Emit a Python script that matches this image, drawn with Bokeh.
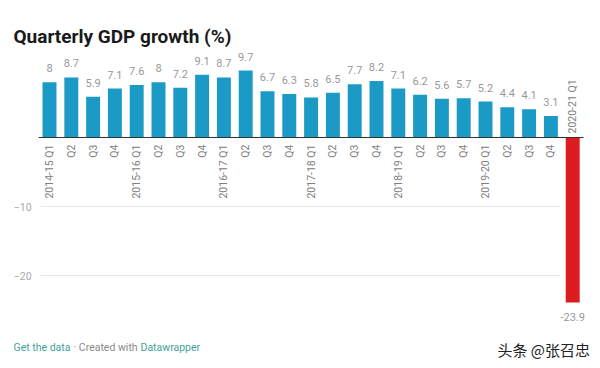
from bokeh.plotting import figure
from bokeh.models import Range1d, Label, ColumnDataSource
from bokeh.core.properties import value
from bokeh.embed import file_html
from bokeh.resources import INLINE
import math

# ---- data ----
quarters = ["2014-15 Q1", "Q2", "Q3", "Q4",
            "2015-16 Q1", "Q2", "Q3", "Q4",
            "2016-17 Q1", "Q2", "Q3", "Q4",
            "2017-18 Q1", "Q2", "Q3", "Q4",
            "2018-19 Q1", "Q2", "Q3", "Q4",
            "2019-20 Q1", "Q2", "Q3", "Q4",
            "2020-21 Q1"]
growth = [8, 8.7, 5.9, 7.1, 7.6, 8, 7.2, 9.1, 8.7, 9.7, 6.7, 6.3,
          5.8, 6.5, 7.7, 8.2, 7.1, 6.2, 5.6, 5.7, 5.2, 4.4, 4.1, 3.1, -23.9]
y_ticks = [-20, -10]

title_text = "Quarterly GDP growth (%)"
footer_link1 = "Get the data"
footer_mid = "· Created with"
footer_link2 = "Datawrapper"
watermark = "头条 @张召忠"

# ---- layout (pixels) ----
FIG_W, FIG_H = 600, 368
X0, DX = 49.0, 21.8      # x of first bar centre, px per category
Y0, DY = 137.0, 6.9      # y of zero, px per unit

def xd(px):
    return (px - X0) / DX

def yd(py):
    return (Y0 - py) / DY

BLUE = "#1c9ac6"
RED = "#dc1c1f"
FONT = "Roboto"

p = figure(width=FIG_W, height=FIG_H, output_backend="svg", toolbar_location=None,
           x_axis_location=None, y_axis_location=None,
           x_range=Range1d(xd(0), xd(FIG_W)), y_range=Range1d(yd(FIG_H), yd(0)),
           min_border=0)
p.outline_line_color = None
p.background_fill_color = "white"
p.border_fill_color = "white"
p.grid.visible = False

n = len(growth)
idx = list(range(n))

# grid lines and tick labels
grid_src = ColumnDataSource(dict(y=y_ticks, lab=[f"{t:g}".replace("-", "−") for t in y_ticks],
                                 x0=[-0.41] * len(y_ticks), x1=[n - 1 - 0.55] * len(y_ticks)))
p.segment(x0="x0", y0="y", x1="x1", y1="y", source=grid_src, line_color="#e6e6e6", line_width=1)
p.text(x="x0", y="y", text="lab", source=grid_src, text_align="right", text_baseline="middle",
       x_offset=-9, text_font=value(FONT), text_font_size="10.5px", text_color="#aaaaaa")

colors = [BLUE if v >= 0 else RED for v in growth]
src = ColumnDataSource(dict(x=idx, top=growth, color=colors))
p.vbar(x="x", top="top", bottom=0, width=0.64, fill_color="color", line_color=None, source=src)

# zero baseline
p.segment(x0=[-0.5], y0=[0], x1=[n - 0.5], y1=[0], line_color="#333333", line_width=1)

pos = [i for i, v in enumerate(growth) if v >= 0]
neg = [i for i, v in enumerate(growth) if v < 0]

pos_src = ColumnDataSource(dict(x=pos, y=[growth[i] for i in pos],
                                lab=[f"{growth[i]:g}" for i in pos],
                                cat=[quarters[i] for i in pos], zero=[0] * len(pos)))
neg_src = ColumnDataSource(dict(x=neg, y=[growth[i] for i in neg],
                                lab=[f"{growth[i]:g}" for i in neg],
                                cat=[quarters[i] for i in neg], zero=[0] * len(neg)))

# value labels
p.text(x="x", y="y", text="lab", source=pos_src, text_align="center", text_baseline="middle",
       y_offset=-14, text_font=value(FONT), text_font_size="11px", text_color="#999999")
p.text(x="x", y="y", text="lab", source=neg_src, text_align="center", text_baseline="middle",
       y_offset=15, text_font=value(FONT), text_font_size="11px", text_color="#999999")

# category labels (rotated, opposite side of the bar)
p.text(x="x", y="zero", text="cat", source=pos_src, angle=math.pi / 2,
       text_align="right", text_baseline="middle", y_offset=7,
       text_font=value(FONT), text_font_size="10.5px", text_color="#808080")
p.text(x="x", y="zero", text="cat", source=neg_src, angle=math.pi / 2,
       text_align="left", text_baseline="middle", y_offset=-4,
       text_font=value(FONT), text_font_size="10.5px", text_color="#808080")

# title
p.add_layout(Label(x=xd(13), y=yd(36), text=title_text, text_font=FONT,
                   text_font_size="19px", text_font_style="bold", text_color="#1a1a1a",
                   text_baseline="alphabetic", text_align="left"))

# footer
p.add_layout(Label(x=xd(13), y=yd(347), text=footer_link1, text_font=FONT,
                   text_font_size="10.5px", text_color="#3fa39c",
                   text_baseline="middle", text_align="left"))
p.add_layout(Label(x=xd(73), y=yd(347), text=footer_mid, text_font=FONT,
                   text_font_size="10.5px", text_color="#8a8a8a",
                   text_baseline="middle", text_align="left"))
p.add_layout(Label(x=xd(140), y=yd(347), text=footer_link2, text_font=FONT,
                   text_font_size="10.5px", text_color="#3fa39c",
                   text_baseline="middle", text_align="left"))
p.add_layout(Label(x=xd(497), y=yd(349), text=watermark, text_font="Noto Sans CJK SC",
                   text_font_size="15px", text_color="#222222",
                   text_baseline="middle", text_align="left"))

open("out.html", "w").write(file_html(p, INLINE))
